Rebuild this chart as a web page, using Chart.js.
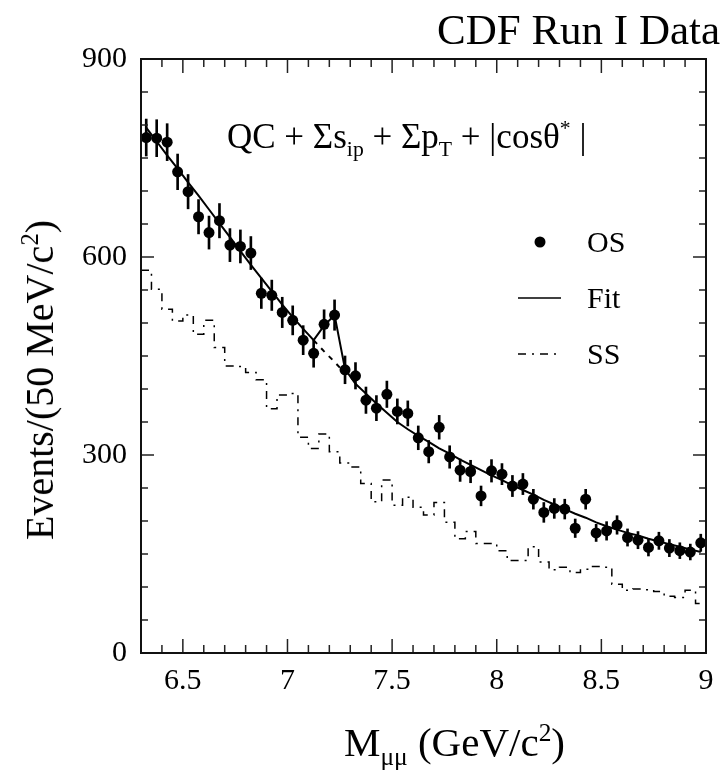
<!DOCTYPE html>
<html lang="en">
<head>
  <meta charset="UTF-8">
  <title>CDF Run I Data - dimuon mass</title>
  <script src="https://cdn.jsdelivr.net/npm/chart.js"></script>
  <style>
    body {
      margin: 0;
      background: #fff;
    }

    #wrap {
      position: relative;
      width: 724px;
      height: 771px;
      font-family: 'Liberation Serif', 'Times New Roman', serif;
      color: #000;
    }

    #wrap canvas {
      position: absolute;
      left: 0;
      top: 0;
    }

    .txt {
      position: absolute;
      white-space: nowrap;
      line-height: 1;
    }

    .txt sub {
      font-size: 0.62em;
      vertical-align: -0.35em;
      line-height: 0;
    }

    .txt sup {
      font-size: 0.62em;
      vertical-align: 0.6em;
      line-height: 0;
    }

    #title { left: 437px; top: 8px; font-size: 43px; }
    #cuts { left: 227px; top: 119px; font-size: 35px; }
    #lgOS { left: 587px; top: 227px; font-size: 30px; }
    #lgFit { left: 587px; top: 283px; font-size: 30px; }
    #lgSS { left: 587px; top: 339px; font-size: 30px; }
    #xTitle { left: 344px; top: 722px; font-size: 41px; }
    #yTitle {
      left: 40px;
      top: 380px;
      font-size: 40px;
      transform: translate(-50%, -50%) rotate(-90deg);
    }
  </style>
</head>
<body>

<div id="wrap">
  <canvas id="massChart" width="724" height="771"></canvas>
  <div class="txt" id="title">CDF Run I Data</div>
  <div class="txt" id="cuts">QC + &Sigma;s<sub>ip</sub> + &Sigma;p<sub>T</sub> + |cos&theta;<sup>*</sup> |</div>
  <div class="txt" id="lgOS">OS</div>
  <div class="txt" id="lgFit">Fit</div>
  <div class="txt" id="lgSS">SS</div>
  <div class="txt" id="xTitle">M<sub>&mu;&mu;</sub> (GeV/c<sup>2</sup>)</div>
  <div class="txt" id="yTitle">Events/(50 MeV/c<sup>2</sup>)</div>
</div>

<script>
  // bin centres, 50 MeV bins from 6.3 to 9.0 GeV/c^2
  var massBins = [
    6.325, 6.375, 6.425, 6.475, 6.525, 6.575, 6.625, 6.675, 6.725, 6.775,
    6.825, 6.875, 6.925, 6.975, 7.025, 7.075, 7.125, 7.175, 7.225, 7.275,
    7.325, 7.375, 7.425, 7.475, 7.525, 7.575, 7.625, 7.675, 7.725, 7.775,
    7.825, 7.875, 7.925, 7.975, 8.025, 8.075, 8.125, 8.175, 8.225, 8.275,
    8.325, 8.375, 8.425, 8.475, 8.525, 8.575, 8.625, 8.675, 8.725, 8.775,
    8.825, 8.875, 8.925, 8.975
  ];
  var binHalfWidth = 0.025;

  // opposite-sign data points
  var osCounts = [
    781, 780, 774, 729, 699, 661, 637, 655, 618, 616,
    606, 545, 542, 516, 504, 474, 454, 498, 512, 429,
    420, 383, 371, 392, 366, 363, 326, 305, 342, 297,
    277, 275, 238, 276, 271, 253, 256, 233, 213, 219,
    218, 189, 233, 182, 185, 194, 175, 171, 160, 170,
    159, 155, 153, 167
  ];
  var osErrors = [
    28, 28, 28, 27, 26, 26, 25, 26, 25, 25,
    25, 23, 23, 23, 22, 22, 21, 22, 23, 21,
    20, 20, 19, 20, 19, 19, 18, 17, 18, 17,
    17, 17, 15, 17, 16, 16, 16, 15, 15, 15,
    15, 14, 15, 13, 14, 14, 13, 13, 13, 13,
    13, 12, 12, 13
  ];

  // fit (background + signal bump near 7.2)
  var fitCurve = [
    796, 775, 754, 734, 713, 693, 672, 651, 630, 609,
    588, 568, 548, 528, 509, 491, 474, 496, 512, 430,
    408, 393, 378, 364, 350, 339, 329, 320, 310, 302,
    293, 285, 277, 269, 262, 254, 247, 240, 232, 225,
    218, 211, 205, 198, 192, 187, 182, 178, 173, 169,
    165, 161, 157, 153
  ];
  // background alone, shown dashed under the bump
  var bkgUnderPeak = [
    null, null, null, null, null, null, null, null, null, null,
    null, null, null, null, null, null, 474, 457, 441, 424,
    null, null, null, null, null, null, null, null, null, null,
    null, null, null, null, null, null, null, null, null, null,
    null, null, null, null, null, null, null, null, null, null,
    null, null, null, null
  ];

  // same-sign histogram
  var ssCounts = [
    580, 551, 521, 503, 512, 483, 504, 463, 435, 434,
    425, 414, 370, 391, 393, 327, 310, 332, 305, 288,
    282, 257, 229, 262, 224, 236, 221, 209, 228, 198,
    173, 184, 166, 166, 155, 140, 140, 161, 138, 126,
    130, 122, 127, 131, 130, 104, 95, 97, 96, 93,
    86, 84, 95, 75
  ];

  var xTickVals = [6.5, 7, 7.5, 8, 8.5, 9];
  var yTickVals = [0, 300, 600, 900];

  var ssDash = [8, 6, 2, 6];

  // histogram steps: left edge of each bin, plus closing right edge
  var ssSteps = massBins.map(function (m, i) {
    return { x: m - binHalfWidth, y: ssCounts[i] };
  });
  ssSteps.push({ x: massBins[massBins.length - 1] + binHalfWidth, y: ssCounts[ssCounts.length - 1] });

  // frame, inward ticks on all four sides, and legend symbols
  var framePlugin = {
    id: 'frame',
    afterDraw: function (chart) {
      var ctx = chart.ctx;
      var a = chart.chartArea;
      var xs = chart.scales.x;
      var ys = chart.scales.y;
      ctx.save();
      ctx.strokeStyle = '#222';
      ctx.lineWidth = 1.5;

      var v, px, len;
      for (v = 6.3; v <= 9.0001; v += 0.1) {
        px = xs.getPixelForValue(v);
        len = xTickVals.some(function (t) { return Math.abs(t - v) < 1e-6; }) ? 14 : 8;
        ctx.beginPath();
        ctx.moveTo(px, a.bottom);
        ctx.lineTo(px, a.bottom - len);
        ctx.moveTo(px, a.top);
        ctx.lineTo(px, a.top + len);
        ctx.stroke();
      }
      for (v = 0; v <= 900; v += 50) {
        px = ys.getPixelForValue(v);
        len = (v % 300 === 0) ? 13 : 7;
        ctx.beginPath();
        ctx.moveTo(a.left, px);
        ctx.lineTo(a.left + len, px);
        ctx.moveTo(a.right, px);
        ctx.lineTo(a.right - len, px);
        ctx.stroke();
      }

      ctx.lineWidth = 2;
      ctx.strokeStyle = '#111';
      ctx.strokeRect(a.left, a.top, a.right - a.left, a.bottom - a.top);

      // legend symbols
      ctx.fillStyle = '#000';
      ctx.beginPath();
      ctx.arc(540, 242, 5.5, 0, Math.PI * 2);
      ctx.fill();

      ctx.strokeStyle = '#000';
      ctx.lineWidth = 1.5;
      ctx.beginPath();
      ctx.moveTo(518, 298);
      ctx.lineTo(561, 298);
      ctx.stroke();

      ctx.setLineDash(ssDash);
      ctx.beginPath();
      ctx.moveTo(518, 354);
      ctx.lineTo(561, 354);
      ctx.stroke();
      ctx.restore();
    }
  };

  var tickFont = { family: "'Liberation Serif', 'Times New Roman', serif", size: 30 };

  var ctx = document.getElementById('massChart').getContext('2d');

  var massChart = new Chart(ctx, {
    type: 'line',
    data: {
      datasets: [
        {
          type: 'bar',
          label: 'OS errors',
          data: massBins.map(function (m, i) {
            return { x: m, y: [osCounts[i] - osErrors[i], osCounts[i] + osErrors[i]] };
          }),
          backgroundColor: '#000',
          borderWidth: 0,
          barThickness: 2,
          grouped: false,
          order: 2
        },
        {
          type: 'scatter',
          label: 'OS',
          data: massBins.map(function (m, i) { return { x: m, y: osCounts[i] }; }),
          pointRadius: 5.5,
          pointBackgroundColor: '#000',
          pointBorderWidth: 0,
          showLine: false,
          order: 1
        },
        {
          type: 'line',
          label: 'Fit',
          data: massBins.map(function (m, i) { return { x: m, y: fitCurve[i] }; }),
          borderColor: '#000',
          borderWidth: 2,
          pointRadius: 0,
          tension: 0,
          order: 3
        },
        {
          type: 'line',
          label: 'Background',
          data: massBins.map(function (m, i) { return { x: m, y: bkgUnderPeak[i] }; }),
          borderColor: '#000',
          borderWidth: 2,
          borderDash: [5, 6],
          pointRadius: 0,
          spanGaps: false,
          order: 4
        },
        {
          type: 'line',
          label: 'SS',
          data: ssSteps,
          stepped: 'before',
          borderColor: '#000',
          borderWidth: 1.5,
          borderDash: ssDash,
          pointRadius: 0,
          order: 5
        }
      ]
    },
    options: {
      responsive: false,
      animation: false,
      devicePixelRatio: 1,
      layout: {
        padding: { top: 59, right: 18, left: 0, bottom: 0 }
      },
      plugins: {
        legend: { display: false },
        tooltip: { enabled: false }
      },
      scales: {
        x: {
          type: 'linear',
          min: 6.3,
          max: 9.0,
          offset: false,
          grid: { display: false, drawTicks: false },
          border: { display: false },
          afterBuildTicks: function (scale) {
            scale.ticks = xTickVals.map(function (v) { return { value: v }; });
          },
          afterFit: function (scale) {
            scale.height = 118;
            scale.paddingLeft = 0;
            scale.paddingRight = 0;
          },
          ticks: {
            autoSkip: false,
            maxRotation: 0,
            padding: 10,
            color: '#000',
            font: tickFont,
            callback: function (value) { return String(value); }
          }
        },
        y: {
          type: 'linear',
          min: 0,
          max: 900,
          grid: { display: false, drawTicks: false },
          border: { display: false },
          afterBuildTicks: function (scale) {
            scale.ticks = yTickVals.map(function (v) { return { value: v }; });
          },
          afterFit: function (scale) {
            scale.width = 141;
            scale.paddingTop = 0;
            scale.paddingBottom = 0;
          },
          ticks: {
            padding: 14,
            color: '#000',
            font: tickFont
          }
        }
      }
    },
    plugins: [framePlugin]
  });
</script>

</body>
</html>
